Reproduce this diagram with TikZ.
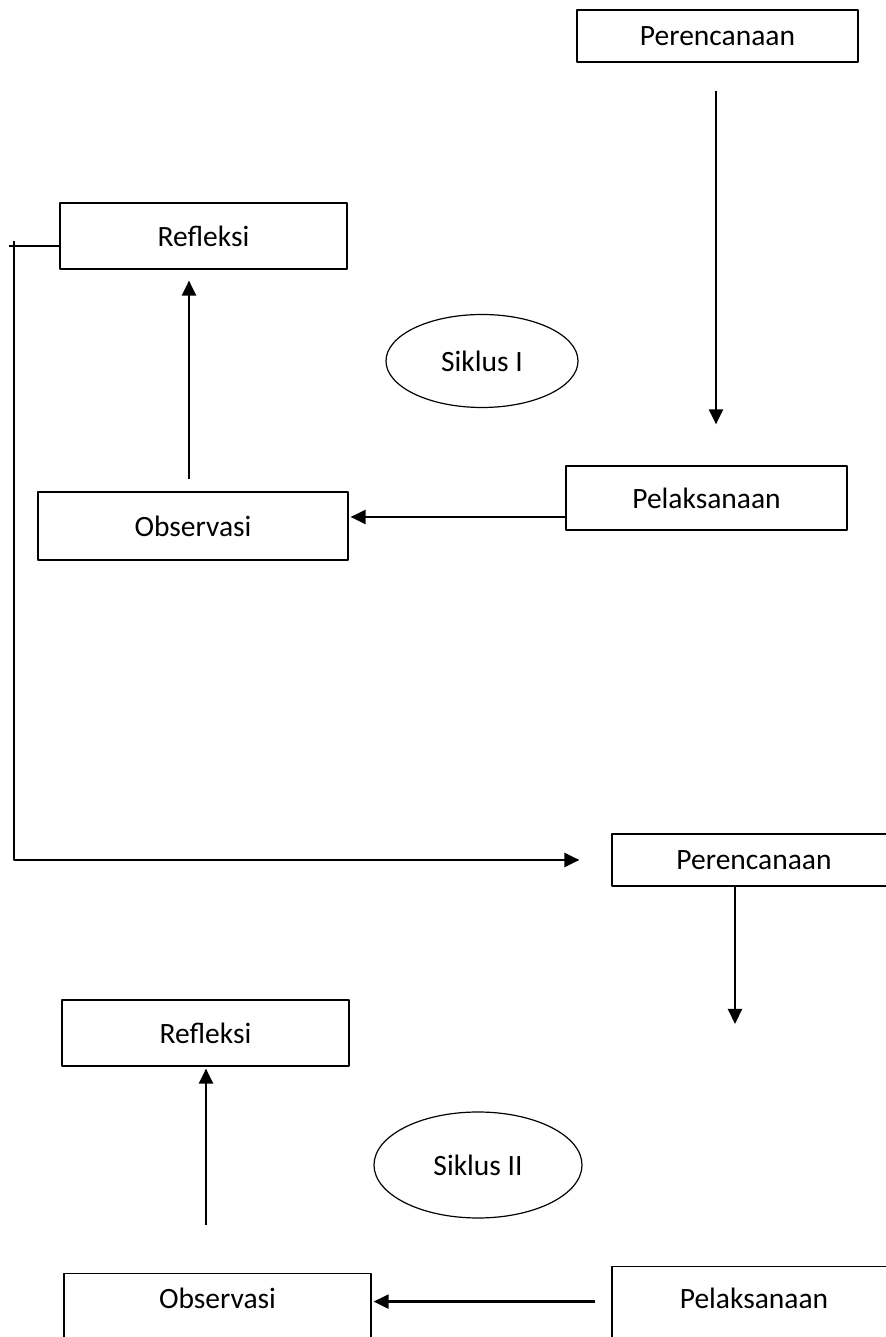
\documentclass[tikz,border=0pt]{standalone}
\usepackage{fontspec}
\setmainfont{Carlito}
\usetikzlibrary{arrows.meta,shapes.geometric}
\tikzset{
  stagebox/.style={draw,line width=1.2bp,minimum width=#1,inner sep=0pt},
  cyclebox/.style={draw,ellipse,line width=1.2bp,inner sep=0pt},
  flow/.style={->,line width=2.2bp},
}
\begin{document}
\begin{tikzpicture}[>={Triangle[length=15bp,width=14bp]},line join=bevel,font=\fontsize{29.5bp}{34bp}\selectfont]
\useasboundingbox[fill=white] (0bp,0bp) rectangle (886bp,1337bp);
%%
\node (plan_1) at (717.5bp,1301bp) [stagebox=281bp,minimum height=52bp] {Perencanaan};
  \node (refl_1) at (203.5bp,1101bp) [stagebox=287bp,minimum height=66bp] {Refleksi};
  \node (cycle_1) at (482bp,976bp) [cyclebox,minimum width=192bp,minimum height=93bp] {Siklus I};
  \node (act_1) at (706.5bp,839bp) [stagebox=281bp,minimum height=64bp] {Pelaksanaan};
  \node (obs_1) at (193bp,811bp) [stagebox=310bp,minimum height=68bp] {Observasi};
%
\node (plan_2) at (754bp,477bp) [stagebox=284bp,minimum height=52bp] {Perencanaan};
  \node (refl_2) at (205.5bp,304bp) [stagebox=287bp,minimum height=66bp] {Refleksi};
  \node (cycle_2) at (478bp,172bp) [cyclebox,minimum width=208bp,minimum height=106bp] {Siklus II};
  \node (obs_2) at (217.5bp,64bp) [stagebox=307bp,anchor=north,text height=35bp,text depth=50bp] {Observasi};
  \node (act_2) at (754bp,71bp) [stagebox=284bp,anchor=north,text height=42bp,text depth=50bp] {Pelaksanaan};
%
\coordinate (turn) at (14bp,1096bp);
  \coordinate (tick) at (9bp,1091bp);
%%
\draw [flow,shorten <=28bp,shorten >=41bp] ([xshift=-1.5bp]plan_1.south) -- ([xshift=-1.5bp]plan_1.south |- act_1.north);
  \draw [flow,shorten >=2bp] ([yshift=-19bp]act_1.west) -- ([yshift=-19bp]act_1.west -| obs_1.east);
  \draw [flow,shorten <=12bp,shorten >=11bp] ([xshift=-4bp]obs_1.north) -- ([xshift=-4bp]obs_1.north |- refl_1.south);
  \draw [line width=1.2bp] ([yshift=-10bp]refl_1.west) -- (tick);
  \draw [flow,shorten >=32bp] (turn) |- (plan_2.west);
%
\draw [flow,shorten >=242bp] ([xshift=-19bp]plan_2.south) -- ([xshift=-19bp]plan_2.south |- act_2.north);
  \draw [flow,shorten <=16bp,shorten >=2bp] ([yshift=7bp]act_2.base west) -- ([yshift=7bp]act_2.base west -| obs_2.east);
  \draw [flow,shorten <=48bp,shorten >=2bp] ([xshift=-11.5bp]obs_2.north) -- ([xshift=-11.5bp]obs_2.north |- refl_2.south);
%
\end{tikzpicture}
\end{document}
